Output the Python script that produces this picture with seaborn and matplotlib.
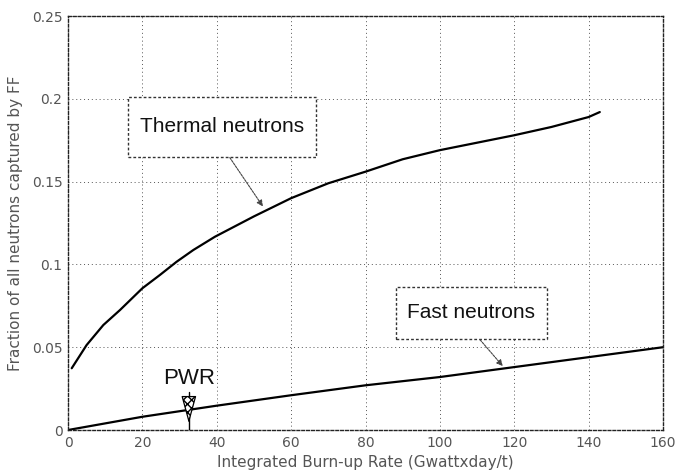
import matplotlib
matplotlib.use("Agg")
import matplotlib.pyplot as plt
import pandas as pd
import seaborn as sns
from matplotlib.patches import Rectangle

# Values
burnup_thermal = [1, 5, 9.5, 14, 20, 24.7, 29.2, 33.7, 39.5, 50, 60, 70, 80, 90,
                  100, 110, 120, 130, 140, 143]
frac_thermal = [0.0373, 0.0513, 0.0634, 0.0725, 0.0856, 0.0936, 0.1016, 0.1087,
                0.1167, 0.129, 0.140, 0.149, 0.156, 0.1635, 0.169, 0.1735, 0.178,
                0.183, 0.189, 0.192]

burnup_fast = [0, 20, 40, 60, 80, 100, 120, 140, 160]
frac_fast = [0.0, 0.008, 0.0147, 0.021, 0.027, 0.032, 0.038, 0.044, 0.050]

x_ticks = [0, 20, 40, 60, 80, 100, 120, 140, 160]
y_ticks = [0, 0.05, 0.1, 0.15, 0.2, 0.25]
y_tick_labels = ["0", "0.05", "0.1", "0.15", "0.2", "0.25"]

pwr_burnup = 32.5

df_thermal = pd.DataFrame({"burnup": burnup_thermal, "frac": frac_thermal})
df_fast = pd.DataFrame({"burnup": burnup_fast, "frac": frac_fast})

sns.set_style("white")
plt.rcParams["font.family"] = ["DejaVu Sans"]

fig = plt.figure(figsize=(6.78, 4.75), dpi=100)
ax = fig.add_axes([0.1003, 0.0947, 0.8776, 0.8716])

sns.lineplot(data=df_thermal, x="burnup", y="frac", color="black", linewidth=1.6, ax=ax)
sns.lineplot(data=df_fast, x="burnup", y="frac", color="black", linewidth=1.6, ax=ax)

ax.set_xlim(0, 160)
ax.set_ylim(0, 0.25)
ax.set_xticks(x_ticks)
ax.set_yticks(y_ticks)
ax.set_yticklabels(y_tick_labels)
ax.tick_params(colors="#555555", labelsize=10, length=0, pad=4)
ax.grid(True, linestyle=(0, (1, 3)), color="#555555", linewidth=0.7)

for side in ["top", "bottom", "left", "right"]:
    ax.spines[side].set_visible(True)
    ax.spines[side].set_color("#222222")
    ax.spines[side].set_linestyle((0, (2, 1.5)))
    ax.spines[side].set_linewidth(1.0)

ax.set_xlabel("Integrated Burn-up Rate (Gwattxday/t)", fontsize=11, color="#555555", labelpad=4)
ax.set_ylabel("Fraction of all neutrons captured by FF", fontsize=11, color="#555555", labelpad=6)

label_font = ["Liberation Sans", "DejaVu Sans"]

# Label boxes (dashed frames) with arrows pointing at the curves
box_kw = dict(fc="white", ec="#333333", ls=(0, (2, 1.5)), lw=1.0, zorder=3)
ax.add_patch(Rectangle((16.1, 0.165), 50.6, 0.036, **box_kw))
ax.text(41.4, 0.183, "Thermal neutrons", ha="center", va="center", fontsize=15,
        family=label_font, color="#111111", zorder=4)
ax.annotate("", xy=(52.4, 0.135), xytext=(43.5, 0.1645),
            arrowprops=dict(arrowstyle="-|>", color="#444444", lw=0.8,
                            ls=(0, (2, 1)), mutation_scale=9, shrinkA=0, shrinkB=0))

ax.add_patch(Rectangle((88.2, 0.055), 40.6, 0.0314, **box_kw))
ax.text(108.5, 0.0707, "Fast neutrons", ha="center", va="center", fontsize=15,
        family=label_font, color="#111111", zorder=4)
ax.annotate("", xy=(116.9, 0.0386), xytext=(110.8, 0.0545),
            arrowprops=dict(arrowstyle="-|>", color="#444444", lw=0.8,
                            ls=(0, (2, 1)), mutation_scale=9, shrinkA=0, shrinkB=0))

# PWR marker
ax.text(pwr_burnup, 0.031, "PWR", ha="center", va="center", fontsize=16,
        family=label_font, color="#111111")
ax.plot([pwr_burnup, pwr_burnup], [0.0, 0.023], color="black", lw=1.0, zorder=4)
ax.annotate("", xy=(pwr_burnup, 0.004), xytext=(pwr_burnup, 0.017),
            arrowprops=dict(arrowstyle="-|>,head_length=1.1,head_width=0.3",
                            fc="white", ec="black", lw=0.9, hatch="xxxx",
                            mutation_scale=16, shrinkA=0, shrinkB=0), zorder=5)

fig.savefig("out.png", dpi=100)
